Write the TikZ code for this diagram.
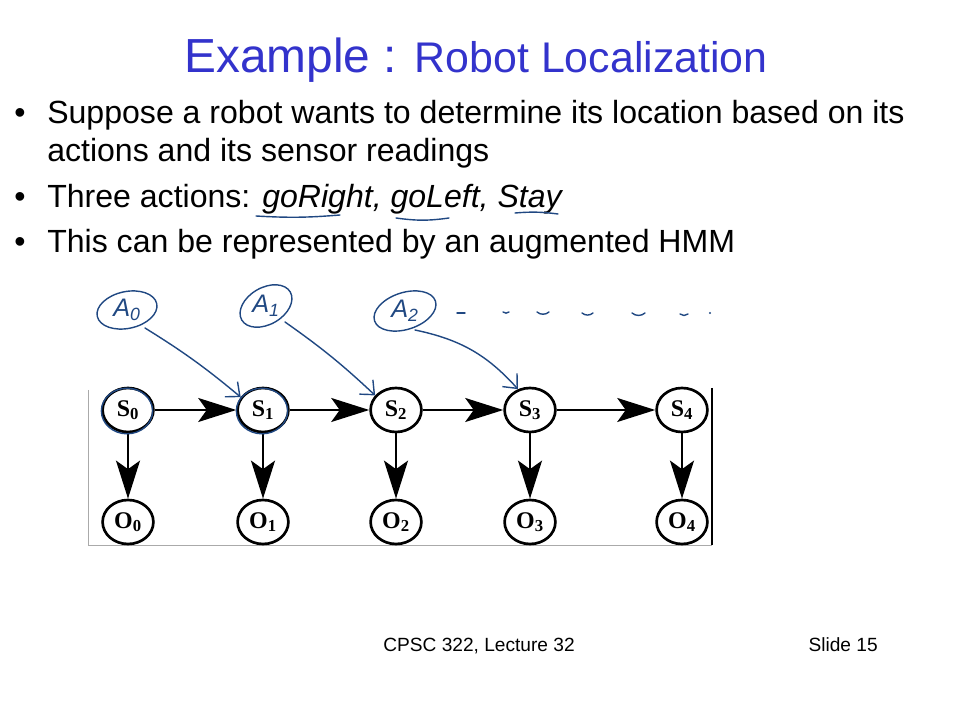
\documentclass[tikz,border=0pt]{standalone}
\usepackage{fontspec}
\setmainfont{Liberation Sans}
\setsansfont{Liberation Sans}
\newfontfamily\hmmfont{Liberation Serif}
\usepackage{tikz}
\usetikzlibrary{positioning,arrows.meta,shapes.geometric}
\definecolor{titleblue}{RGB}{51,51,204}
\definecolor{penblue}{RGB}{32,72,130}
\definecolor{framegray}{RGB}{170,170,170}
\newcommand{\slidebullet}[3]{%
  \node[anchor=base west, inner sep=0pt] at (14,#1) {\fontsize{22.8}{26}\selectfont\textbullet};
  \node[anchor=base west, inner sep=0pt] (#2) at (47,#1) {\fontsize{22.8}{26}\selectfont #3};}
\newcommand{\penwave}[3]{\draw[pen] (#1,#3) to[bend right=40] (#2,#3);}
\newcommand{\actloop}[3]{\draw[pen, rotate around={#2:(#1.center)}] (#1.center) ellipse [x radius=#3cm, y radius=0.46cm];}

\begin{document}
\begin{tikzpicture}[x=0.025cm, y=-0.025cm, font=\sffamily,
  state/.style={ellipse, draw, line width=1.9pt, minimum width=1.27cm,
    minimum height=1.1cm, inner sep=0pt, font=\hmmfont\bfseries\fontsize{17}{17}\selectfont},
  hmmarrow/.style={line width=2pt, -{Stealth[length=27pt, width=17pt, inset=6pt]}},
  pen/.style={penblue, line width=1pt, line cap=round, line join=round},
  penarrow/.style={pen, -{Straight Barb[length=8pt, width=14pt]}},
  action/.style={text=penblue, inner sep=1pt, font=\itshape\fontsize{18}{18}\selectfont}]
  \useasboundingbox (0,0) rectangle (960,720);
  % title and bullets
  \node[anchor=base, inner sep=0pt, text=titleblue] (title) at (476,73)
    {\fontsize{34}{38}\selectfont Example : \fontsize{30.5}{34}\selectfont Robot Localization};
  \slidebullet{124}{b1}{Suppose a robot wants to determine its location based on its}
  \node[anchor=base west, inner sep=0pt] (b1b) at (47,162) {\fontsize{22.8}{26}\selectfont actions and its sensor readings};
  \slidebullet{208}{b2}{Three actions: \textit{goRight, goLeft, Stay}}
  \slidebullet{253}{b3}{This can be represented by an augmented HMM}
  \draw[pen] (256,216) to[bend right=4] (340,215);
  \draw[pen] (396,218) to[bend right=8] (449,218);
  \draw[pen] (515,213) to[bend left=6] (558,214);
  % frame of the HMM picture
  \draw[framegray, line width=0.6pt] (88,390) -- (88,545) -- (712,545);
  \draw[line width=1.6pt] (712,388) -- (712,545);
  % states and observations
  \foreach \i/\x in {0/128,1/263,2/396,3/530,4/682} {
    \node[state] (s\i) at (\x,410) {S\textsubscript{\i}};
    \node[state] (o\i) at (\x,522) {O\textsubscript{\i}};
  }
  \foreach \i/\j in {0/1,1/2,2/3,3/4}
    \draw[hmmarrow] (s\i) -- (s\j);
  \foreach \i in {0,...,4}
    \draw[hmmarrow] (s\i) -- (o\i);
  % handwritten actions
  \node[action] (a0) at (127,310) {A\textsubscript{0}};
  \node[action] (a1) at (266,306) {A\textsubscript{1}};
  \node[action] (a2) at (405,311) {A\textsubscript{2}};
  \actloop{a0}{12}{0.76}
  \actloop{a1}{30}{0.7}
  \actloop{a2}{18}{0.8}
  \coordinate (a0foot) at ([shift={(18,18)}]a0.center);
  \coordinate (a1foot) at ([shift={(19,16)}]a1.center);
  \coordinate (a2foot) at ([shift={(10,19)}]a2.center);
  \draw[penarrow] (a0foot) to[bend left=4] (s1.150);
  \draw[penarrow] (a1foot) to[bend left=4] (s2.145);
  \draw[penarrow] (a2foot) to[bend left=18] (s3.120);
  \draw[pen] ([shift={(-1,1)}]s0.center) ellipse [x radius=0.64cm, y radius=0.57cm];
  \draw[pen] ([shift={(-1,1)}]s1.center) ellipse [x radius=0.64cm, y radius=0.57cm];
  \draw[pen] (457,313) -- (465,313);
  \penwave{503}{509}{312}
  \penwave{537}{549}{312}
  \penwave{582}{593}{313}
  \penwave{632}{645}{313}
  \penwave{680}{688}{314}
  \fill[penblue] (710,313) circle (0.8pt);
  % footer
  \node[anchor=base, inner sep=0pt] (footer) at (479,651) {\fontsize{13.6}{15}\selectfont CPSC 322, Lecture 32};
  \node[anchor=base east, inner sep=0pt] (slideno) at (878,651) {\fontsize{13.6}{15}\selectfont Slide 15};
\end{tikzpicture}
\end{document}
